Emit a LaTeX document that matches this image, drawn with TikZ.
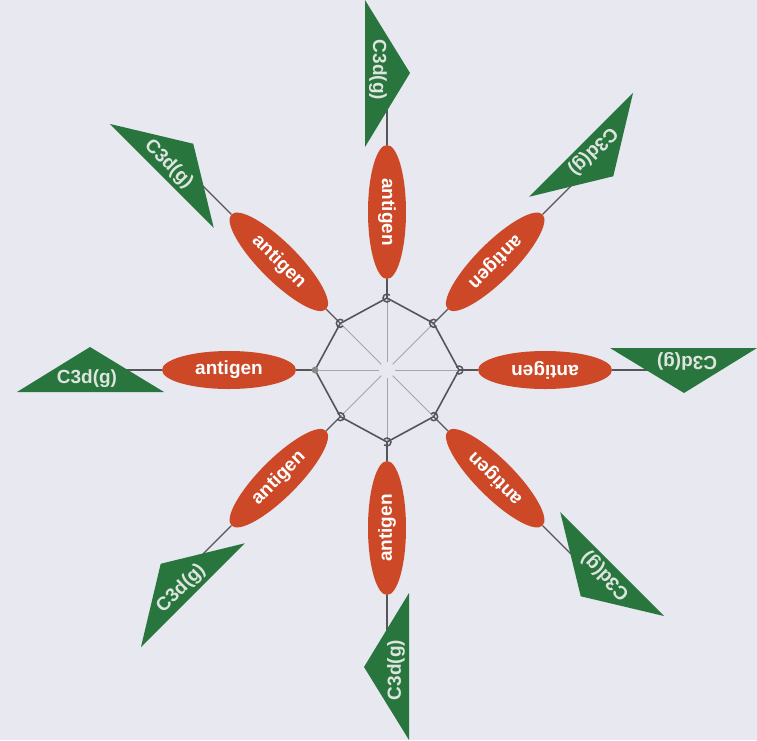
\documentclass[tikz,border=0pt]{standalone}
\usepackage{fontspec}
\setmainfont{Liberation Sans}
\usetikzlibrary{shapes.geometric}
\definecolor{bgc}{RGB}{232,232,240}
\definecolor{agred}{RGB}{205,72,38}
\definecolor{trigreen}{RGB}{40,118,62}
\definecolor{trtext}{RGB}{222,228,222}
\definecolor{edgec}{RGB}{85,85,90}
\definecolor{spokec}{RGB}{165,165,172}
\begin{document}
\begin{tikzpicture}[x=1pt,y=1pt,
  antigen/.style={ellipse, fill=agred, minimum width=134pt, minimum height=38pt, inner sep=0pt,
    text=white, font=\fontsize{19}{21}\selectfont\bfseries},
  c3d/.style={inner sep=0pt, text=trtext, font=\fontsize{19}{21}\selectfont\bfseries},
  tri/.style={fill=trigreen},
  edge/.style={draw=edgec, line width=1.6pt},
  spoke/.style={draw=spokec, line width=1pt},
  stalk/.style={draw=edgec, line width=1.3pt},
  hookst/.style={draw=edgec, line width=1.5pt}]
\fill[bgc] (-387,-370) rectangle (370,370);
\useasboundingbox (-387,-370) rectangle (370,370);
\coordinate (c) at (0,0);
\foreach \a [count=\i] in {0,45,...,315} {
  \pgfmathsetmacro{\rv}{mod(\a,90)==0 ? 72 : 66}
  \pgfmathsetmacro{\ra}{mod(\a,90)==0 ? 158 : 153}
  \coordinate (v\i) at (\a:\rv);
  \node[antigen, rotate=\a+180] (ag\i) at (\a:\ra) {antigen};
}
\foreach \i in {1,...,8} \draw[spoke, shorten <=8pt] (c) -- (v\i);
\draw[edge] (v1) -- (v2) -- (v3) -- (v4) -- (v5) -- (v6) -- (v7) -- (v8) -- cycle;
\foreach \i in {1,...,8} \draw[stalk] (v\i) -- (ag\i.east);
\foreach \i/\s in {1/-135,2/45,3/45,4/45,6/-135,7/-135,8/-135}
  \draw[hookst] (v\i) ++(\s:4) arc[start angle=\s, delta angle=270, radius=4];
\fill[edgec!70] (v5) circle (3.4);
\foreach \a [count=\i] in {0,45,...,315} {
  \begin{scope}[rotate=\a]
    \coordinate (tc\i) at (290,0);
    \draw[stalk] (ag\i.west) -- (tc\i);
    \fill[tri] (223,22) -- (370,22) -- (297,-23) -- cycle;
    \node[c3d, rotate=\a+180] (t\i) at (300,9) {C3d(g)};
  \end{scope}
}
\end{tikzpicture}
\end{document}
